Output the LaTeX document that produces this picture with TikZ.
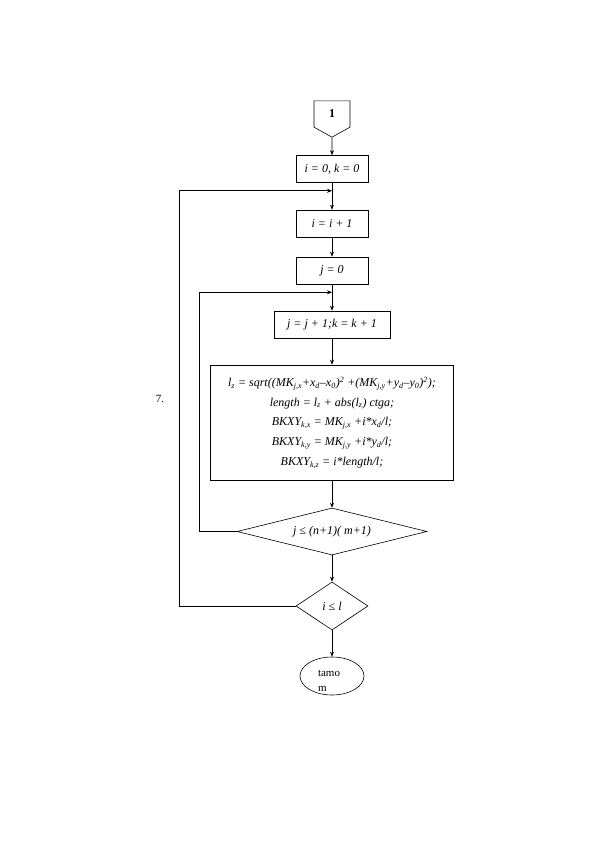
\documentclass[tikz,border=0pt]{standalone}
\usepackage{fontspec}
\setmainfont{Liberation Serif}
\usetikzlibrary{arrows.meta, positioning, shapes.geometric, shapes.symbols}

\begin{document}
\begin{tikzpicture}[
    ->,
    >={Stealth[length=5pt, width=4pt]},
    on grid,
    line width=0.6pt,
    font=\fontsize{12}{14}\selectfont\itshape,
    box/.style={draw, rectangle, minimum width=72pt, minimum height=27pt, inner sep=2pt},
    cond/.style={draw, diamond, inner sep=0pt},
]
    \useasboundingbox (0,0) rectangle (595pt,-842pt);

    \node[draw, signal, signal to=south, signal pointer angle=122,
          minimum width=36pt, minimum height=28pt, inner sep=0pt,
          font=\bfseries\fontsize{12}{14}\selectfont]         (A) at (332pt,-114pt) {1};
    \node[box,                           below=55pt of A]   (B) {i = 0, k = 0};
    \node[box,                           below=54.5pt of B] (C) {i = i + 1};
    \node[box,                           below=47pt of C]   (D) {j = 0};
    \node[box, minimum width=116pt,      below=54pt of D]   (E) {j = j + 1;k = k + 1};
    \node[box, minimum width=243pt, minimum height=115pt, align=center,
          font=\fontsize{12}{19.7}\selectfont\itshape,    below=98pt of E]   (F) {%
        l\textsubscript{z} = sqrt((MK\textsubscript{j,x}+x\textsubscript{d}--x\textsubscript{0})\textsuperscript{2} +(MK\textsubscript{j,y}+y\textsubscript{d}--y\textsubscript{0})\textsuperscript{2});\\
        length = l\textsubscript{z} + abs(l\textsubscript{z}) ctga;\\
        BKXY\textsubscript{k,x} = MK\textsubscript{j,x} +i*x\textsubscript{d}/l;\\
        BKXY\textsubscript{k,y} = MK\textsubscript{j,y} +i*y\textsubscript{d}/l;\\
        BKXY\textsubscript{k,z} = i*length/l;};
    \node[cond, aspect=4,   minimum width=190pt, minimum height=47pt, below=109pt of F]  (G) {j ≤ (n+1)( m+1)};
    \node[cond, aspect=1.5, minimum width=72pt,  minimum height=48pt, below=74.5pt of G] (H) {i ≤ l};
    \node[draw, ellipse, minimum width=64pt, minimum height=38pt, below=70pt of H,
          label={[anchor=north west, xshift=-3pt, yshift=-5pt, inner sep=0pt,
                  align=left, font=\fontsize{11}{15}\selectfont]center:{tamo\\m}}] (I) {};
    \node[font=\fontsize{11}{12}\selectfont] (N) at (160pt,-399pt) {7.};

    \coordinate[below=8pt of B.south] (J1);
    \coordinate[below=8pt of D.south] (J2);

    \path
        (A) edge (B)
        (B) edge (C)
        (C) edge (D)
        (D) edge (E)
        (E) edge (F)
        (F) edge (G)
        (G) edge (H)
        (H) edge (I)
    ;

    \draw (G.west) -- ++(-37pt,0)  |- (J2);
    \draw (H.west) -- ++(-116pt,0) |- (J1);
\end{tikzpicture}
\end{document}
